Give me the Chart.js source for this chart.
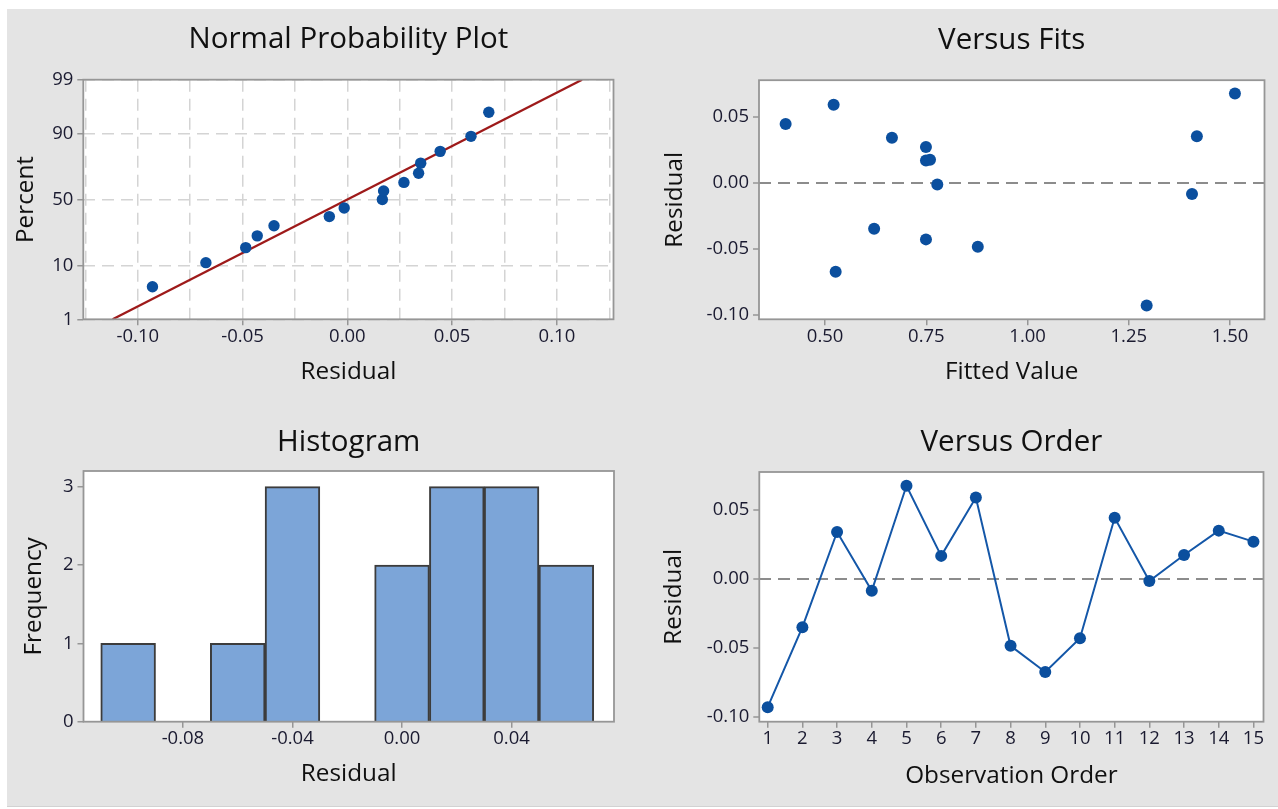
<!DOCTYPE html>
<html>
<head>
<meta charset="utf-8">
<script src="https://cdn.jsdelivr.net/npm/chart.js@4.4.0/dist/chart.umd.min.js"></script>
<style>
  body { margin: 0; background: #fff; width: 1278px; height: 809px; position: relative; overflow: hidden; }
  #bg { position: absolute; left: 7px; top: 9px; width: 1271px; height: 797px; background: #e4e4e4; border-bottom: 1px solid #d2d2d2; }
  canvas { position: absolute; }
</style>
</head>
<body>
<div id="bg"></div>
<canvas id="np" width="633" height="396" style="left:7px;top:9px"></canvas>
<canvas id="fits" width="638" height="396" style="left:640px;top:9px"></canvas>
<canvas id="hist" width="633" height="401" style="left:7px;top:405px"></canvas>
<canvas id="order" width="638" height="401" style="left:640px;top:405px"></canvas>
<script>
// residuals in observation order, and the fitted values that go with them
const residuals = [-0.093, -0.035, 0.034, -0.0086, 0.0675, 0.0167, 0.059, -0.0485, -0.0675, -0.043, 0.0443, -0.0015, 0.0173, 0.035, 0.027];
const fitted = [1.294, 0.621, 0.665, 1.406, 1.512, 0.749, 0.521, 0.877, 0.526, 0.749, 0.4025, 0.777, 0.759, 1.418, 0.749];
const observation = [1, 2, 3, 4, 5, 6, 7, 8, 9, 10, 11, 12, 13, 14, 15];

// normal probability plot: percent for each sorted residual, fitted line ends
const npPercent = [4.5, 11, 17.5, 24, 30.5, 37, 43.5, 50, 56.5, 63, 69.5, 76, 82.5, 89, 95.5];
const npLineX = [-0.112, 0.112];
const npLinePct = [1, 99];
const npPctTicks = [1, 10, 50, 90, 99];
const npXGrid = [-0.125, -0.1, -0.075, -0.05, -0.025, 0, 0.025, 0.05, 0.075, 0.1, 0.125];
const npXLabels = [-0.1, -0.05, 0, 0.05, 0.1];

// histogram bins (centres) and counts
const binCenters = [-0.10, -0.08, -0.06, -0.04, -0.02, 0.00, 0.02, 0.04, 0.06];
const binCounts = [1, 0, 1, 3, 0, 2, 3, 3, 2];
const histXTicks = [-0.08, -0.04, 0, 0.04];
const histYTicks = [0, 1, 2, 3];

const residTicks = [-0.1, -0.05, 0, 0.05];
const fitTicks = [0.5, 0.75, 1.0, 1.25, 1.5];

const FONT = "'Open Sans', sans-serif";
const TXT = '#101010';
const TICK_TXT = '#1a1a30';
const AXIS = '#969696';
const DOT = '#0b4f9e';

// inverse of the standard normal cdf (Acklam), used for the probability axis
function normInv(p) {
  const a = [-39.69683028665376, 220.9460984245205, -275.9285104469687, 138.357751867269, -30.66479806614716, 2.506628277459239];
  const b = [-54.47609879822406, 161.5858368580409, -155.6989798598866, 66.80131188771972, -13.28068155288572];
  const c = [-0.007784894002430293, -0.3223964580411365, -2.400758277161838, -2.549732539343734, 4.374664141464968, 2.938163982698783];
  const d = [0.007784695709041462, 0.3224671290700398, 2.445134137142996, 3.754408661907416];
  const lo = 0.02425;
  let q, r;
  if (p < lo) {
    q = Math.sqrt(-2 * Math.log(p));
    return (((((c[0]*q+c[1])*q+c[2])*q+c[3])*q+c[4])*q+c[5]) / ((((d[0]*q+d[1])*q+d[2])*q+d[3])*q+1);
  }
  if (p <= 1 - lo) {
    q = p - 0.5; r = q * q;
    return (((((a[0]*r+a[1])*r+a[2])*r+a[3])*r+a[4])*r+a[5])*q / (((((b[0]*r+b[1])*r+b[2])*r+b[3])*r+b[4])*r+1);
  }
  q = Math.sqrt(-2 * Math.log(1 - p));
  return -(((((c[0]*q+c[1])*q+c[2])*q+c[3])*q+c[4])*q+c[5]) / ((((d[0]*q+d[1])*q+d[2])*q+d[3])*q+1);
}

// white plot area and grey frame
const framePlugin = {
  id: 'frame',
  beforeDraw(chart) {
    const {ctx, chartArea: a} = chart;
    ctx.save();
    ctx.fillStyle = '#fff';
    ctx.fillRect(a.left, a.top, a.right - a.left, a.bottom - a.top);
    ctx.restore();
  },
  afterDraw(chart) {
    const {ctx, chartArea: a} = chart;
    ctx.save();
    ctx.strokeStyle = AXIS;
    ctx.lineWidth = 1.8;
    ctx.strokeRect(a.left, a.top, a.right - a.left, a.bottom - a.top);
    ctx.restore();
  }
};

function axis(o) {
  return {
    type: 'linear',
    min: o.min,
    max: o.max,
    offset: false,
    afterBuildTicks: s => { s.ticks = o.ticks.map(v => ({value: v})); },
    afterFit: s => { if (s.isHorizontal()) s.height = o.size; else s.width = o.size; },
    ticks: {
      autoSkip: false, maxRotation: 0, padding: o.tickPad,
      color: TICK_TXT, font: {family: FONT, size: 18.5, weight: 500},
      callback: o.label
    },
    grid: {
      offset: false,
      drawOnChartArea: true,
      color: o.grid || 'transparent',
      lineWidth: o.gridWidth || 1.5,
      tickLength: 6, tickWidth: 1.5,
      tickColor: o.tickColor || AXIS
    },
    border: { display: false, dash: o.dash || [] },
    title: { display: true, text: o.title, color: TXT, font: {family: FONT, size: 24.3, weight: 500}, padding: o.titlePad }
  };
}

function baseOptions(title, titlePad, padRight, scales) {
  return {
    responsive: false,
    animation: false,
    events: [],
    layout: { padding: { left: 0, right: padRight, top: 0, bottom: 0 } },
    plugins: {
      legend: { display: false },
      tooltip: { enabled: false },
      title: { display: true, text: title, fullSize: false, color: TXT, font: {family: FONT, size: 29.5, weight: 500}, padding: titlePad }
    },
    scales: scales
  };
}

const fix2 = v => v.toFixed(2);
const zeroLine = c => (c.tick && Math.abs(c.tick.value) < 1e-9) ? '#8c8c8c' : 'transparent';

// Normal probability plot
const sorted = residuals.slice().sort((p, q) => p - q);
new Chart(document.getElementById('np'), {
  type: 'scatter',
  data: {
    datasets: [{
      data: sorted.map((r, i) => ({x: r, y: normInv(npPercent[i] / 100)})),
      backgroundColor: DOT, borderColor: DOT, pointRadius: 5.7, pointBorderWidth: 0
    }, {
      data: npLineX.map((x, i) => ({x: x, y: normInv(npLinePct[i] / 100)})),
      showLine: true, borderColor: '#9e1a1a', borderWidth: 2.2, pointRadius: 0
    }]
  },
  options: baseOptions('Normal Probability Plot', {top: 13.3, bottom: 22}, 26.5, {
    x: axis({
      min: -0.126, max: 0.127, ticks: npXGrid, size: 85.7, tickPad: 0,
      label: v => npXLabels.some(t => Math.abs(t - v) < 1e-9) ? fix2(v) : '',
      tickColor: c => npXLabels.some(t => Math.abs(t - c.tick.value) < 1e-9) ? AXIS : 'transparent',
      grid: '#d4d4d4', dash: [12, 7],
      title: 'Residual', titlePad: {top: 0, bottom: 18}
    }),
    y: axis({
      min: normInv(0.01), max: normInv(0.99), ticks: npPctTicks.map(p => normInv(p / 100)),
      size: 76.3, tickPad: 4,
      label: (v, i) => String(npPctTicks[i]),
      grid: '#d4d4d4', dash: [12, 7],
      title: 'Percent', titlePad: {top: 4, bottom: 0}
    })
  }),
  plugins: [framePlugin]
});

// Versus Fits
new Chart(document.getElementById('fits'), {
  type: 'scatter',
  data: {
    datasets: [{
      data: fitted.map((f, i) => ({x: f, y: residuals[i]})),
      backgroundColor: DOT, borderColor: DOT, pointRadius: 6, pointBorderWidth: 0
    }]
  },
  options: baseOptions('Versus Fits', {top: 14.3, bottom: 21.5}, 13.5, {
    x: axis({
      min: 0.3367, max: 1.585, ticks: fitTicks, size: 85.7, tickPad: 0,
      label: fix2, title: 'Fitted Value', titlePad: {top: 0, bottom: 18}
    }),
    y: axis({
      min: -0.1035, max: 0.0775, ticks: residTicks, size: 119, tickPad: 4,
      label: fix2, grid: zeroLine, gridWidth: 2, dash: [12, 7],
      title: 'Residual', titlePad: {top: 20.1, bottom: 0}
    })
  }),
  plugins: [framePlugin]
});

// Histogram
new Chart(document.getElementById('hist'), {
  type: 'bar',
  data: {
    datasets: [{
      data: binCenters.map((x, i) => ({x: x, y: binCounts[i]})),
      backgroundColor: '#7ca5d8',
      borderColor: '#3c3c3c',
      borderWidth: c => (c.raw && c.raw.y) ? 2 : 0,
      barPercentage: 1, categoryPercentage: 1
    }]
  },
  options: baseOptions('Histogram', {top: 20.3, bottom: 10.3}, 26, {
    x: axis({
      min: -0.1163, max: 0.0774, ticks: histXTicks, size: 84.3, tickPad: 0,
      label: fix2, title: 'Residual', titlePad: {top: 0, bottom: 17}
    }),
    y: axis({
      min: 0, max: 3.2, ticks: histYTicks, size: 76.5, tickPad: 4,
      label: v => String(v), title: 'Frequency', titlePad: {top: 12.7, bottom: 0}
    })
  }),
  plugins: [framePlugin]
});

// Versus Order
new Chart(document.getElementById('order'), {
  type: 'scatter',
  data: {
    datasets: [{
      data: observation.map((o, i) => ({x: o, y: residuals[i]})),
      showLine: true,
      borderColor: '#1457a8', borderWidth: 2,
      backgroundColor: DOT, pointBorderColor: DOT, pointRadius: 6, pointBorderWidth: 0
    }]
  },
  options: baseOptions('Versus Order', {top: 19.8, bottom: 11.8}, 14.5, {
    x: axis({
      min: 0.758, max: 15.29, ticks: observation, size: 84.3, tickPad: 0,
      label: v => String(v), title: 'Observation Order', titlePad: {top: 0, bottom: 15.7}
    }),
    y: axis({
      min: -0.1035, max: 0.0775, ticks: residTicks, size: 119.3, tickPad: 4,
      label: fix2, grid: zeroLine, gridWidth: 2, dash: [12, 7],
      title: 'Residual', titlePad: {top: 19.5, bottom: 0}
    })
  }),
  plugins: [framePlugin]
});
</script>
</body>
</html>
